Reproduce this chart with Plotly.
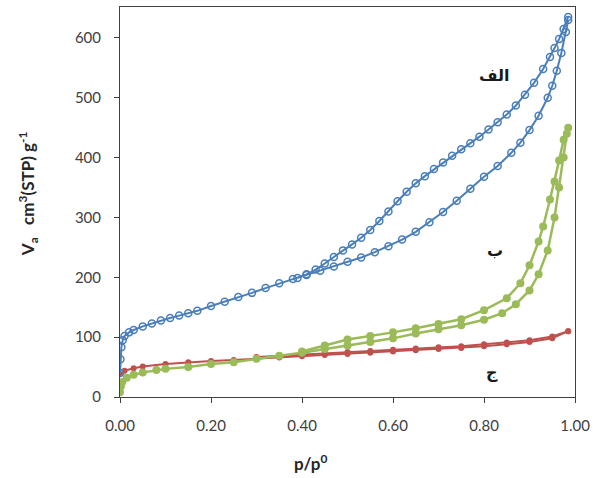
import plotly.graph_objects as go

# ---- data (p/p0 vs Va) ----
blue_ads_p = [0.0, 0.001, 0.003, 0.006, 0.01, 0.02, 0.03, 0.05, 0.07, 0.09, 0.11, 0.13, 0.15, 0.17,
              0.2, 0.23, 0.26, 0.29, 0.32, 0.35, 0.38, 0.41, 0.44, 0.47, 0.5, 0.53, 0.56, 0.59, 0.62,
              0.65, 0.68, 0.71, 0.74, 0.77, 0.8, 0.83, 0.86, 0.88, 0.9, 0.92, 0.94, 0.95, 0.96, 0.97,
              0.98, 0.985]
blue_ads_v = [40, 63, 83, 95, 102, 108, 112, 118, 123, 128, 132, 136, 140, 144,
              152, 159, 167, 174, 182, 190, 197, 204, 211, 218, 226, 233, 242, 252, 263,
              276, 292, 309, 328, 348, 368, 386, 408, 425, 446, 470, 500, 520, 545, 575,
              610, 630]
blue_des_p = [0.985, 0.975, 0.965, 0.955, 0.945, 0.93, 0.91, 0.89, 0.87, 0.85, 0.83, 0.81, 0.79,
              0.77, 0.75, 0.73, 0.71, 0.69, 0.67, 0.65, 0.63, 0.61, 0.59, 0.57, 0.55, 0.53, 0.51,
              0.49, 0.47, 0.45, 0.43, 0.41, 0.39]
blue_des_v = [635, 615, 598, 583, 568, 548, 525, 505, 487, 472, 459, 447, 435,
              424, 414, 403, 392, 381, 369, 357, 343, 327, 310, 294, 279, 266, 255,
              245, 234, 223, 213, 205, 199]

green_ads_p = [0.0, 0.002, 0.005, 0.015, 0.03, 0.05, 0.08, 0.1, 0.15, 0.2, 0.25, 0.3, 0.35, 0.4,
               0.45, 0.5, 0.55, 0.6, 0.65, 0.7, 0.75, 0.8, 0.84, 0.87, 0.9, 0.92, 0.94, 0.955,
               0.965, 0.975, 0.982]
green_ads_v = [8, 18, 25, 32, 37, 41, 45, 47, 50, 55, 58, 64, 69, 74,
               80, 86, 92, 98, 106, 113, 120, 129, 140, 155, 178, 205, 245, 300,
               350, 400, 440]
green_des_p = [0.985, 0.975, 0.965, 0.955, 0.945, 0.93, 0.92, 0.9, 0.88, 0.85, 0.8, 0.75, 0.7,
               0.65, 0.6, 0.55, 0.5, 0.45, 0.4]
green_des_v = [450, 430, 395, 360, 330, 285, 260, 220, 190, 165, 145, 130, 122,
               115, 108, 102, 96, 86, 76]

red_ads_p = [0.0, 0.01, 0.03, 0.05, 0.1, 0.15, 0.2, 0.25, 0.3, 0.35, 0.4, 0.45, 0.5, 0.55, 0.6,
             0.65, 0.7, 0.75, 0.8, 0.85, 0.9, 0.95, 0.985]
red_ads_v = [38, 44, 48, 51, 55, 58, 60, 62, 64, 66, 68, 70, 72, 74, 76,
             78, 80, 82, 85, 88, 92, 98, 110]
red_des_p = [0.985, 0.95, 0.9, 0.85, 0.8, 0.75, 0.7, 0.65, 0.6, 0.55, 0.5, 0.45, 0.4, 0.35, 0.3]
red_des_v = [110, 101, 95, 91, 88, 85, 83, 81, 79, 77, 75, 73, 71, 69, 67]

x_ticks = [0.0, 0.2, 0.4, 0.6, 0.8, 1.0]
y_ticks = [0, 100, 200, 300, 400, 500, 600]
labels = ["الف", "ب", "ج"]

BLUE = "#4A7EBB"
GREEN = "#9BBB59"
RED = "#C0504D"

# plot-area geometry in page pixels
L, R, T, B = 120, 578, 6, 397
W, H = 596, 478

fig = go.Figure()

for p, v in [(red_ads_p, red_ads_v), (red_des_p, red_des_v)]:
    fig.add_trace(go.Scatter(x=p, y=v, mode="lines+markers",
                             line=dict(color=RED, width=2),
                             marker=dict(color=RED, size=6, symbol="circle"),
                             showlegend=False))
for p, v in [(green_ads_p, green_ads_v), (green_des_p, green_des_v)]:
    fig.add_trace(go.Scatter(x=p, y=v, mode="lines+markers",
                             line=dict(color=GREEN, width=2.5),
                             marker=dict(color=GREEN, size=8, symbol="circle"),
                             showlegend=False))
for p, v in [(blue_ads_p, blue_ads_v), (blue_des_p, blue_des_v)]:
    fig.add_trace(go.Scatter(x=p, y=v, mode="lines+markers",
                             line=dict(color=BLUE, width=2),
                             marker=dict(color=BLUE, size=7, symbol="circle-open",
                                         line=dict(width=1.5)),
                             showlegend=False))

tickfont = dict(family="Lato, Noto Sans, sans-serif", size=15, color="#404040")

fig.update_xaxes(range=[0, 1.0], tickvals=x_ticks, tickformat=".2f",
                 showgrid=False, zeroline=False, showline=True, linecolor="#404040",
                 linewidth=1, mirror=True, ticks="outside", ticklen=5, tickcolor="#404040",
                 tickfont=tickfont, ticklabelstandoff=10)
ymax = (B - T) / 0.6
fig.update_yaxes(range=[0, ymax], tickvals=y_ticks,
                 showgrid=False, zeroline=False, showline=True, linecolor="#404040",
                 linewidth=1, mirror=True, ticks="outside", ticklen=5, tickcolor="#404040",
                 tickfont=tickfont, ticklabelstandoff=10)


def px2paper(px, py):
    return (px - L) / (R - L), (B - py) / (B - T)


titles = [
    ("<b>V<sub>a</sub>&nbsp;&nbsp;&nbsp;cm<sup>3</sup>(STP) g<sup>-1</sup></b>", 27, 193, -90),
    ("<b>p/p<sup>0</sup></b>", 312, 463, 0),
]
for text, px, py, ang in titles:
    xp, yp = px2paper(px, py)
    fig.add_annotation(text=text, x=xp, y=yp, xref="paper", yref="paper",
                       showarrow=False, textangle=ang,
                       font=dict(family="Lato, Noto Sans, sans-serif", size=17, color="#262626"),
                       xanchor="center", yanchor="middle")

label_pos = [(497, 75), (497, 250), (494, 372)]
for t, (px, py) in zip(labels, label_pos):
    xp, yp = px2paper(px, py)
    fig.add_annotation(text="<b>" + t + "</b>", x=xp, y=yp, xref="paper", yref="paper",
                       showarrow=False, xanchor="center", yanchor="middle",
                       font=dict(family="DejaVu Sans, Noto Sans", size=16, color="#1a1a1a"))

fig.update_layout(width=W, height=H, margin=dict(l=L, r=W - R, t=T, b=H - B),
                  paper_bgcolor="white", plot_bgcolor="white")

fig.write_html("out.html", config={"displayModeBar": False},
               post_script="document.body.style.margin='0px';")
